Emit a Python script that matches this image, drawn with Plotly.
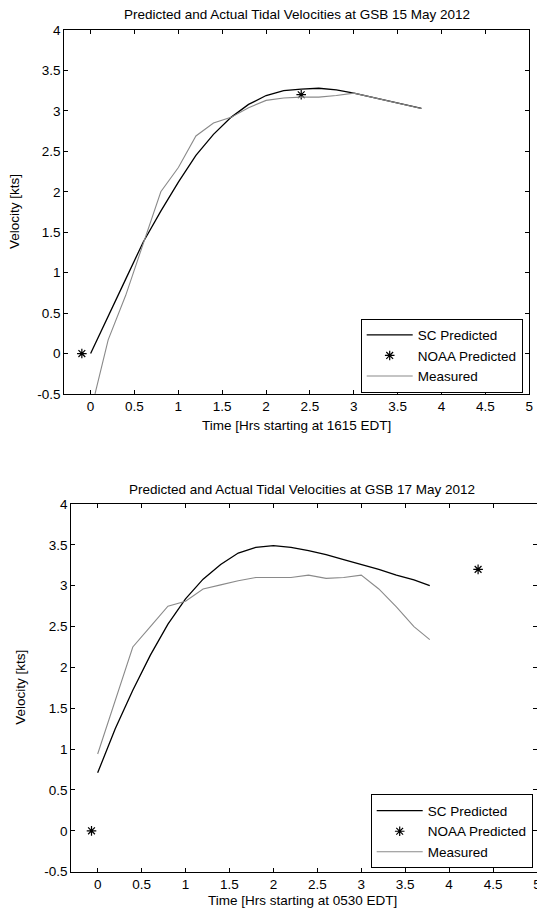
import plotly.graph_objects as go

W, H = 537, 911
FONT = "Liberation Sans, Arial, sans-serif"
FS = 13.5

# ---------------- data: 15 May 2012 ----------------
t1_sc = [0, 0.2, 0.4, 0.6, 0.8, 1.0, 1.2, 1.4, 1.6, 1.8, 2.0, 2.2, 2.4, 2.6, 2.8, 3.0, 3.2, 3.4, 3.6, 3.77]
v1_sc = [0, 0.47, 0.92, 1.38, 1.76, 2.12, 2.45, 2.71, 2.92, 3.08, 3.19, 3.25, 3.27, 3.28, 3.26, 3.22, 3.17, 3.12, 3.07, 3.03]
t1_meas = [0.05, 0.2, 0.4, 0.6, 0.8, 1.0, 1.2, 1.4, 1.6, 1.8, 2.0, 2.2, 2.4, 2.6, 2.8, 3.0, 3.2, 3.4, 3.6, 3.77]
v1_meas = [-0.5, 0.17, 0.72, 1.36, 2.0, 2.3, 2.69, 2.85, 2.92, 3.04, 3.13, 3.16, 3.17, 3.17, 3.19, 3.22, 3.17, 3.12, 3.07, 3.03]
t1_noaa = [-0.1, 2.4]
v1_noaa = [0, 3.2]

# ---------------- data: 17 May 2012 ----------------
t2_sc = [0, 0.2, 0.4, 0.6, 0.8, 1.0, 1.2, 1.4, 1.6, 1.8, 2.0, 2.2, 2.4, 2.6, 2.8, 3.0, 3.2, 3.4, 3.6, 3.78]
v2_sc = [0.71, 1.25, 1.72, 2.15, 2.53, 2.84, 3.08, 3.26, 3.40, 3.47, 3.49, 3.47, 3.43, 3.38, 3.32, 3.26, 3.20, 3.13, 3.07, 3.0]
t2_meas = [0, 0.2, 0.4, 0.6, 0.8, 1.0, 1.2, 1.4, 1.6, 1.8, 2.0, 2.2, 2.4, 2.6, 2.8, 3.0, 3.2, 3.4, 3.6, 3.78]
v2_meas = [0.94, 1.6, 2.25, 2.5, 2.75, 2.81, 2.96, 3.01, 3.06, 3.10, 3.10, 3.10, 3.13, 3.09, 3.10, 3.13, 2.96, 2.74, 2.50, 2.34]
t2_noaa = [-0.07, 4.33]
v2_noaa = [0, 3.2]

x_ticks = [0, 0.5, 1, 1.5, 2, 2.5, 3, 3.5, 4, 4.5, 5]
x_ticktext = ["0", "0.5", "1", "1.5", "2", "2.5", "3", "3.5", "4", "4.5", "5"]
y_ticks = [-0.5, 0, 0.5, 1, 1.5, 2, 2.5, 3, 3.5, 4]
y_ticktext = ["-0.5", "0", "0.5", "1", "1.5", "2", "2.5", "3", "3.5", "4"]

titles = ["Predicted and Actual Tidal Velocities at GSB 15 May 2012",
          "Predicted and Actual Tidal Velocities at GSB 17 May 2012"]
xlabels = ["Time [Hrs starting at 1615 EDT]", "Time [Hrs starting at 0530 EDT]"]
ylabel = "Velocity [kts]"
names = ["SC Predicted", "NOAA Predicted", "Measured"]

BLACK = "#000000"
GRAY = "#8a8a8a"

fig = go.Figure()

def add_set(t_sc, v_sc, t_no, v_no, t_me, v_me, xa, ya, leg):
    fig.add_trace(go.Scatter(x=t_sc, y=v_sc, mode="lines", name=names[0],
                             line=dict(color=BLACK, width=1.3), xaxis=xa, yaxis=ya, legend=leg))
    fig.add_trace(go.Scatter(x=t_no, y=v_no, mode="markers", name=names[1],
                             marker=dict(symbol="asterisk-open", size=8, color=BLACK,
                                         line=dict(color=BLACK, width=1.2)),
                             xaxis=xa, yaxis=ya, legend=leg))
    fig.add_trace(go.Scatter(x=t_me, y=v_me, mode="lines", name=names[2],
                             line=dict(color=GRAY, width=1.1), xaxis=xa, yaxis=ya, legend=leg))

add_set(t1_sc, v1_sc, t1_noaa, v1_noaa, t1_meas, v1_meas, "x", "y", "legend")
add_set(t2_sc, v2_sc, t2_noaa, v2_noaa, t2_meas, v2_meas, "x2", "y2", "legend2")

def px_x(p):
    return p / W

def px_y(p):
    return 1 - p / H

axis_common = dict(showline=True, linecolor=BLACK, linewidth=1.3, mirror="ticks",
                   ticks="inside", ticklen=4, tickwidth=1, tickcolor=BLACK,
                   showgrid=False, zeroline=False, ticklabeloverflow="allow",
                   tickfont=dict(family=FONT, size=FS, color=BLACK))

# pixel geometry of the two axes boxes
top_box = dict(l=64.3, r=529.4, t=30, b=394)
bot_box = dict(l=71.3, r=537, t=504, b=871.7)
XR = [-0.3, 5.0005]

leg_common = dict(xanchor="right", yanchor="middle", bgcolor="white", bordercolor=BLACK,
                  borderwidth=1, font=dict(family=FONT, size=FS, color=BLACK),
                  itemwidth=46, tracegroupgap=0)

fig.update_layout(
    width=W, height=H, margin=dict(l=0, r=0, t=0, b=0, autoexpand=False),
    paper_bgcolor="white", plot_bgcolor="white",
    font=dict(family=FONT, size=FS, color=BLACK),
    showlegend=True,
    xaxis=dict(domain=[px_x(top_box["l"]), px_x(top_box["r"])], range=XR,
               tickvals=x_ticks, ticktext=x_ticktext, anchor="y", **axis_common),
    yaxis=dict(domain=[px_y(top_box["b"]), px_y(top_box["t"])], range=[-0.5, 4],
               tickvals=y_ticks, ticktext=y_ticktext, anchor="x", **axis_common),
    xaxis2=dict(domain=[px_x(bot_box["l"]), min(1.0, px_x(bot_box["r"]))], range=XR,
                tickvals=x_ticks, ticktext=x_ticktext, anchor="y2", **axis_common),
    yaxis2=dict(domain=[px_y(bot_box["b"]), px_y(bot_box["t"])], range=[-0.5, 4],
                tickvals=y_ticks, ticktext=y_ticktext, anchor="x2", **axis_common),
    legend=dict(x=px_x(522.7), y=px_y(355.6), **leg_common),
    legend2=dict(x=px_x(532.7), y=px_y(831.4), **leg_common),
)

ann = []
ann.append(dict(text=titles[0], x=px_x((top_box["l"] + top_box["r"]) / 2), y=px_y(15)))
ann.append(dict(text=titles[1], x=px_x(302), y=px_y(489)))
ann.append(dict(text=xlabels[0], x=px_x((top_box["l"] + top_box["r"]) / 2), y=px_y(425)))
ann.append(dict(text=xlabels[1], x=px_x(302), y=px_y(900)))
for a in ann:
    a.update(xref="paper", yref="paper", xanchor="center", yanchor="middle",
             showarrow=False, font=dict(family=FONT, size=FS, color=BLACK))
for xp, yp in [(14, (top_box["t"] + top_box["b"]) / 2), (21, (bot_box["t"] + bot_box["b"]) / 2)]:
    ann.append(dict(text=ylabel, x=px_x(xp), y=px_y(yp), xref="paper", yref="paper",
                    xanchor="center", yanchor="middle", textangle=-90, showarrow=False,
                    font=dict(family=FONT, size=FS, color=BLACK)))
fig.update_layout(annotations=ann)

fig.write_html("out.html", config={"displayModeBar": False},
               post_script="document.body.style.margin='0';document.body.style.padding='0';")
